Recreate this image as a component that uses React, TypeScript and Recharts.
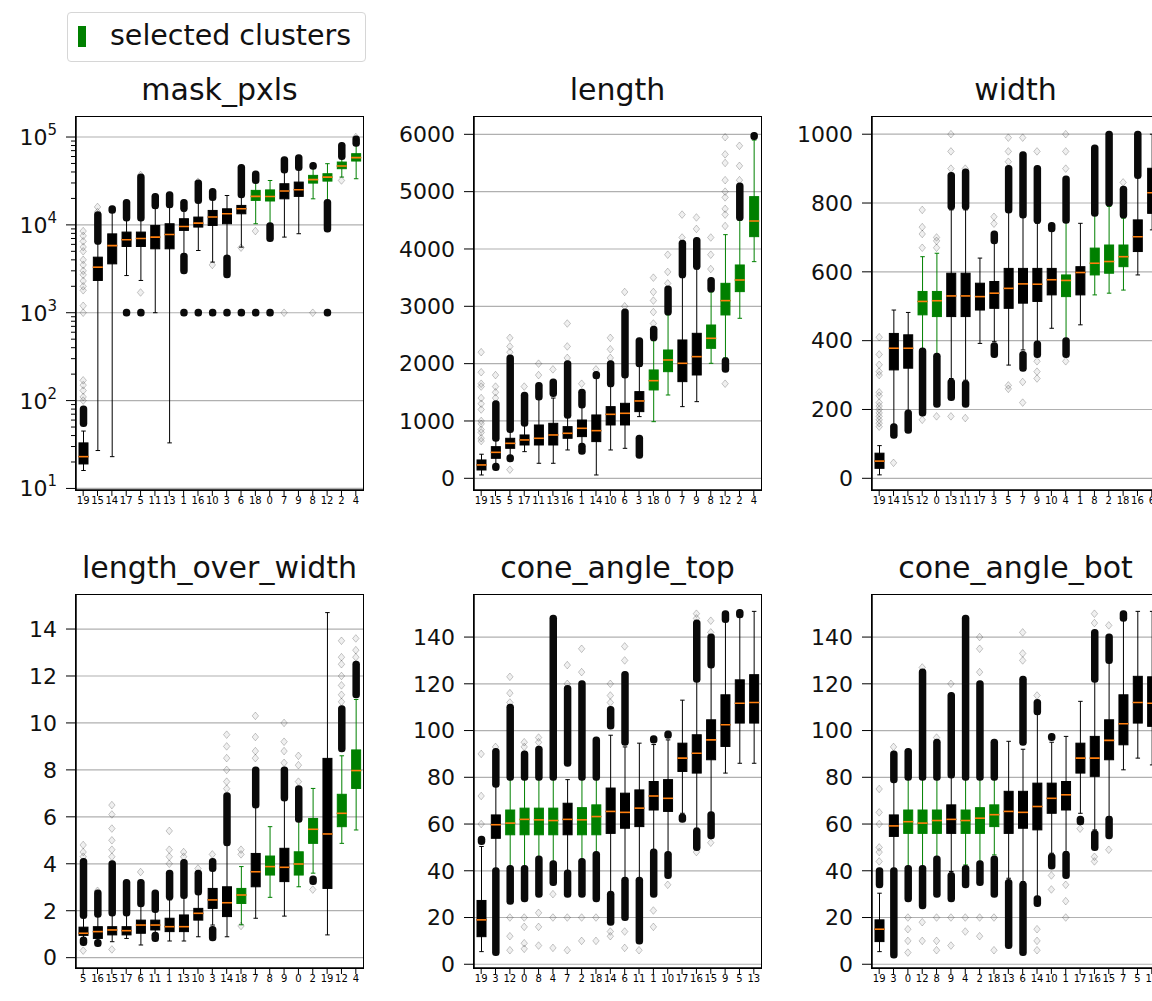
import React from "react";
import { ComposedChart, Bar, Scatter, XAxis, YAxis, CartesianGrid } from "recharts";

type Stat = [number, number, number, number, number]; // lo whisker, q1, median, q3, hi whisker
type Band = [number, number, number]; // box index, from, to (packed outliers)
type Flier = [number, number]; // box index, value (single outlier)

const FONT = "DejaVu Sans, sans-serif";
const INK = "#000000";
const GREEN = "#008000";
const ORANGE = "#ff7f0e";
const GRID = "#b0b0b0";

// clusters drawn in green in every panel
const SELECTED = ["18", "0", "8", "12", "2", "4"];

// ---------------- mask_pxls ----------------
const maskLabels = ["19", "15", "14", "17", "5", "11", "13", "1", "16", "10", "3", "6", "18", "0", "7", "9", "8", "12", "2", "4"];
const maskStats: Stat[] = [
  [16, 19, 23, 33, 45], [27, 2330, 3300, 4290, 6100], [23, 3600, 5800, 7900, 14000], [2650, 5680, 6760, 8280, 11500],
  [2330, 5680, 7000, 8280, 11500], [1000, 5340, 7260, 9860, 15500], [33, 5340, 7780, 10300, 16000], [4400, 8650, 9600, 11750, 14300],
  [5110, 9440, 10470, 12270, 18000], [3770, 9860, 12270, 14600, 19500], [4300, 10300, 13370, 15240, 21600], [5580, 13370, 15240, 16650, 21500],
  [10300, 19000, 21100, 24700, 31500], [10100, 18700, 21000, 25000, 32000], [7260, 19800, 24300, 29400, 40000], [7930, 21100, 25100, 30700, 43000],
  [19800, 29900, 32700, 36600, 45500], [19000, 31500, 35000, 38200, 49700], [35000, 43600, 46700, 51900, 58000], [33500, 53300, 58200, 64600, 80000],
];
const maskBands: Band[] = [
  [0, 55, 80], [1, 6500, 13000], [2, 14700, 15300], [3, 12000, 18000], [3, 990, 1010],
  [4, 12000, 35000], [4, 990, 1010], [5, 16500, 21000], [6, 17000, 22000],
  [7, 15500, 18000], [7, 3000, 4400], [7, 990, 1010], [8, 19000, 30000], [8, 990, 1010],
  [9, 20500, 24000], [9, 990, 1010], [10, 2700, 4200], [10, 990, 1010], [11, 22000, 45000], [11, 990, 1010],
  [12, 32000, 38000], [12, 990, 1010], [13, 7000, 9800], [13, 990, 1010], [14, 42000, 55000], [15, 45000, 58000],
  [16, 46500, 47500], [17, 9000, 18000], [17, 990, 1010], [18, 60000, 80000], [19, 85000, 95000],
];
const maskFliers: Flier[] = [
  [0, 100], [0, 110], [0, 130], [0, 150], [0, 170], [0, 1000], [0, 1200], [0, 1800], [0, 2000], [0, 2300], [0, 2700],
  [0, 3000], [0, 3500], [0, 4000], [0, 5000], [0, 5600], [0, 6500], [0, 7500], [0, 8500],
  [1, 14000], [1, 16000], [4, 37000], [4, 1700], [8, 31000], [9, 3500], [11, 5500], [12, 8500],
  [14, 1000], [16, 1000], [18, 32000], [19, 100000],
];
const maskTicks = [10, 100, 1000, 10000, 100000];
const maskMinorTicks = [
  20, 30, 40, 50, 60, 70, 80, 90, 200, 300, 400, 500, 600, 700, 800, 900,
  2000, 3000, 4000, 5000, 6000, 7000, 8000, 9000, 20000, 30000, 40000, 50000, 60000, 70000, 80000, 90000,
];

// ---------------- length ----------------
const lengthLabels = ["19", "15", "5", "17", "11", "13", "16", "1", "14", "10", "6", "3", "18", "0", "7", "9", "8", "12", "2", "4"];
const lengthStats: Stat[] = [
  [58, 145, 233, 320, 420], [233, 349, 453, 552, 669], [378, 523, 610, 698, 843], [465, 581, 669, 756, 940],
  [262, 581, 698, 930, 1380], [262, 581, 756, 959, 1400], [494, 698, 785, 901, 1060], [581, 727, 872, 1017, 1250],
  [58, 640, 831, 1105, 1780], [494, 930, 1116, 1250, 1600], [523, 930, 1134, 1308, 1780], [1076, 1163, 1349, 1512, 1950],
  [988, 1541, 1703, 1890, 2400], [1453, 1860, 2064, 2238, 2850], [1250, 1686, 2006, 2413, 3500], [1337, 1802, 2122, 2529, 3650],
  [2006, 2267, 2442, 2674, 3250], [2100, 2849, 3099, 3401, 4250], [2791, 3256, 3459, 3721, 4500], [3779, 4215, 4488, 4913, 5900],
];
const lengthBands: Band[] = [
  [1, 700, 1300], [1, 190, 210], [2, 850, 2100], [2, 340, 360], [3, 960, 1450], [4, 1420, 1620], [5, 1480, 1680],
  [6, 1100, 2000], [7, 1280, 1500], [7, 470, 560], [8, 1790, 1810], [9, 1650, 2000], [10, 1800, 2900],
  [11, 2000, 2400], [11, 400, 700], [12, 2450, 2600], [13, 2900, 3300], [14, 3550, 4100], [15, 3700, 4150],
  [16, 3300, 3450], [17, 1900, 2050], [18, 4550, 5100], [19, 5960, 5980],
];
const lengthFliers: Flier[] = [
  [0, 650], [0, 700], [0, 800], [0, 850], [0, 950], [0, 1000], [0, 1200], [0, 1300], [0, 1400], [0, 1600], [0, 1650], [0, 1850], [0, 2200],
  [1, 1400], [1, 1500], [1, 1600], [1, 1800], [2, 2200], [2, 2300], [2, 2450], [2, 150], [3, 1600], [4, 1800], [4, 2000],
  [5, 1900], [6, 2100], [6, 2300], [6, 2700], [7, 1650], [8, 1900], [9, 2100], [9, 2250], [9, 2450], [10, 3000], [10, 3250],
  [12, 2700], [12, 2900], [12, 3100], [12, 3250], [12, 3500], [13, 3400], [13, 3600], [13, 3900], [14, 4200], [14, 4600],
  [15, 4350], [15, 4550], [16, 3650], [16, 3900], [16, 4200],
  [17, 4400], [17, 4600], [17, 4700], [17, 4900], [17, 5000], [17, 5200], [17, 5500], [17, 5650], [17, 5950], [17, 1650],
  [18, 5200], [18, 5450], [18, 5800],
];
const lengthTicks = [0, 1000, 2000, 3000, 4000, 5000, 6000];

// ---------------- width ----------------
const widthLabels = ["19", "14", "15", "12", "0", "13", "11", "17", "3", "5", "7", "9", "10", "4", "1", "8", "2", "18", "16", "6"];
const widthStats: Stat[] = [
  [10, 29, 50, 73, 95], [150, 315, 378, 421, 489], [194, 320, 378, 417, 482], [373, 475, 514, 543, 644],
  [358, 470, 516, 543, 654], [290, 470, 530, 596, 780], [285, 470, 530, 596, 780], [392, 489, 528, 567, 640],
  [397, 494, 538, 572, 690], [329, 494, 552, 610, 780], [373, 509, 565, 610, 761], [388, 514, 564, 610, 741],
  [436, 533, 577, 610, 722], [402, 528, 575, 591, 746], [446, 533, 598, 615, 741], [533, 591, 625, 669, 766],
  [538, 596, 630, 678, 790], [547, 615, 644, 678, 756], [591, 659, 702, 751, 877], [722, 770, 830, 901, 1000],
];
const widthBands: Band[] = [
  [1, 125, 150], [2, 140, 190], [3, 190, 370], [4, 215, 355], [5, 790, 880], [5, 235, 280], [6, 790, 890], [6, 215, 275],
  [8, 360, 385], [8, 690, 710], [9, 780, 900], [10, 765, 940], [10, 320, 360], [11, 750, 900], [11, 360, 390],
  [12, 725, 735], [13, 750, 870], [13, 360, 400], [15, 770, 960], [16, 800, 1000], [17, 765, 840], [18, 880, 1000],
];
const widthFliers: Flier[] = [
  [0, 150], [0, 160], [0, 170], [0, 180], [0, 190], [0, 200], [0, 210], [0, 220], [0, 240], [0, 250], [0, 300], [0, 310],
  [0, 330], [0, 360], [0, 410], [1, 45], [3, 170], [3, 670], [3, 710], [3, 730], [3, 780], [4, 180], [4, 670], [4, 690], [4, 700],
  [5, 180], [5, 900], [5, 950], [5, 1000], [6, 175], [6, 900], [8, 740], [8, 760], [9, 260], [9, 270], [9, 920], [9, 950], [9, 990],
  [10, 280], [10, 220], [10, 990], [11, 290], [11, 310], [11, 340], [11, 950], [13, 340], [13, 900], [13, 950], [13, 1000], [17, 860],
];
const widthTicks = [0, 200, 400, 600, 800, 1000];

// ---------------- length_over_width ----------------
const ratioLabels = ["5", "16", "15", "17", "6", "11", "1", "13", "10", "3", "14", "18", "7", "8", "9", "0", "2", "19", "12", "4"];
const ratioStats: Stat[] = [
  [0.78, 0.95, 1.04, 1.3, 1.8], [0.7, 0.82, 1.11, 1.32, 1.82], [0.68, 0.97, 1.18, 1.32, 1.89], [0.82, 0.97, 1.15, 1.32, 1.89],
  [0.54, 1.04, 1.39, 1.6, 2.31], [0.97, 1.18, 1.39, 1.6, 2.03], [0.71, 1.11, 1.32, 1.68, 2.46], [0.71, 1.11, 1.32, 1.82, 2.6],
  [0.89, 1.6, 1.89, 2.1, 2.74], [1.39, 2.1, 2.46, 2.95, 3.73], [0.89, 1.75, 2.34, 3.02, 4.8], [1.4, 2.31, 2.67, 2.95, 3.88],
  [1.68, 3.02, 3.66, 4.44, 6.43], [2.57, 3.52, 3.88, 4.33, 5.58], [1.77, 3.24, 3.85, 4.66, 6.72], [3.02, 3.52, 3.99, 4.51, 5.86],
  [3.6, 4.87, 5.47, 5.93, 7.21], [0.97, 2.95, 5.27, 8.49, 14.7], [4.87, 5.58, 6.15, 6.96, 8.6], [5.44, 7.21, 7.97, 8.85, 11.0],
];
const ratioBands: Band[] = [
  [0, 1.8, 4.1], [0, 0.65, 0.75], [1, 1.85, 2.75], [1, 0.6, 0.65], [2, 1.9, 4.0], [3, 1.9, 3.2], [4, 2.3, 3.2],
  [5, 2.05, 2.75], [5, 0.82, 0.95], [6, 2.6, 3.6], [7, 2.65, 4.05], [8, 2.8, 3.6], [9, 3.8, 4.1], [9, 0.85, 1.2],
  [10, 4.9, 6.9], [12, 6.5, 8.0], [14, 6.8, 8.0], [15, 5.9, 7.2], [16, 3.25, 3.35], [18, 8.9, 10.6], [19, 11.2, 12.5],
];
const ratioFliers: Flier[] = [
  [0, 4.3], [0, 4.5], [0, 4.8], [0, 0.3], [1, 2.85], [2, 4.3], [2, 4.6], [2, 5.0], [2, 5.5], [2, 6.1], [2, 6.5], [2, 0.35],
  [4, 3.65], [6, 4.0], [6, 4.3], [6, 4.6], [6, 5.4], [7, 4.3], [7, 4.5], [8, 3.8], [9, 4.4],
  [10, 7.2], [10, 7.5], [10, 8.0], [10, 8.5], [10, 9.0], [10, 9.5], [11, 1.35], [11, 4.4], [11, 4.6],
  [12, 8.5], [12, 8.8], [12, 9.4], [12, 10.3], [14, 8.3], [14, 8.8], [14, 9.2], [14, 10.0], [15, 7.5], [15, 8.2], [15, 8.6],
  [16, 2.9], [18, 10.9], [18, 11.2], [18, 11.6], [18, 12.0], [18, 12.5], [18, 12.8], [18, 13.5], [19, 12.8], [19, 13.1], [19, 13.6],
];
const ratioTicks = [0, 2, 4, 6, 8, 10, 12, 14];

// ---------------- cone_angle_top ----------------
const topLabels = ["19", "3", "12", "0", "8", "4", "7", "2", "18", "14", "6", "11", "1", "10", "17", "16", "15", "9", "5", "13"];
const topStats: Stat[] = [
  [5.4, 11.8, 19, 27.3, 50.4], [40.4, 53.9, 59.7, 63.9, 76.8], [41.8, 55.4, 60.4, 66, 79], [41.8, 55.4, 62, 66.8, 79],
  [45.4, 55.4, 61.8, 66.8, 79], [43, 55.4, 61.5, 66.8, 79], [39.7, 55.4, 62, 68.9, 79], [44.7, 55.4, 61.8, 67, 79.6],
  [47.5, 55.4, 63.2, 68.2, 79], [30.4, 56, 65.4, 75.4, 98], [36.8, 58.2, 65, 73.2, 93], [36.1, 58.9, 66.8, 74.6, 94.6],
  [49, 66, 72, 78.2, 94], [47.5, 65.4, 71, 79, 96], [64.6, 82.5, 88.2, 94.6, 113], [58.2, 81.8, 90.3, 98.2, 121.7],
  [64.6, 87.5, 96, 104.6, 128], [81.8, 93.2, 102.5, 115.3, 147.4], [86, 103.2, 111.7, 121.7, 148.8], [86, 103.2, 112, 123.9, 151],
];
const topBands: Band[] = [
  [0, 52.5, 53.5], [1, 5, 40], [1, 77, 91], [2, 27, 41], [2, 80, 110], [3, 28, 41], [3, 80, 90], [4, 30, 45], [4, 80, 92],
  [5, 35, 43], [5, 80, 148], [6, 30, 39], [6, 86, 118], [7, 30, 44], [7, 80, 120], [8, 28, 47], [8, 80, 96],
  [9, 18, 30], [9, 102, 109], [10, 20, 36], [10, 95, 124], [11, 10, 36], [12, 30, 48], [12, 96, 96.5],
  [13, 38, 47], [13, 98, 98.5], [14, 62, 63], [15, 50, 57], [15, 122, 146], [16, 55, 64], [16, 128, 140],
  [17, 147.5, 150], [18, 149.5, 150.5],
];
const topFliers: Flier[] = [
  [0, 60], [0, 72], [0, 90], [1, 93], [2, 20], [2, 12], [2, 6], [2, 112], [2, 116], [2, 123],
  [3, 20], [3, 16], [3, 9], [3, 6.6], [3, 93], [3, 95], [4, 22], [4, 16], [4, 8], [4, 95], [4, 97], [5, 30], [5, 20], [5, 7],
  [6, 20], [6, 6], [6, 120], [6, 128], [7, 20], [7, 10], [7, 125], [7, 135], [8, 20], [8, 10],
  [9, 12], [9, 14], [9, 112], [9, 115], [9, 120], [10, 7], [10, 14], [10, 130], [10, 136], [11, 6], [12, 23], [12, 16],
  [13, 34], [15, 48], [15, 148], [15, 150], [16, 52], [16, 142], [16, 147],
];

// ---------------- cone_angle_bot ----------------
const botLabels = ["19", "3", "0", "12", "8", "9", "4", "2", "18", "13", "6", "14", "10", "1", "17", "16", "15", "7", "5", "11"];
const botStats: Stat[] = [
  [5.4, 9.7, 15, 19, 30.4], [40.4, 54.7, 59.2, 63.9, 78.2], [41.8, 56, 61, 66, 79.6], [41.8, 56, 60.4, 66, 79.6],
  [45, 56, 61.5, 66, 79.6], [39.7, 56, 62, 68.2, 80], [42.5, 56, 61.5, 66, 79.6], [44, 56, 62.5, 67, 79.6],
  [46.8, 58.9, 64, 68.2, 79], [36.8, 56, 65.4, 74, 95.4], [35.4, 58.2, 65, 74, 92], [29, 57.5, 67.5, 77.5, 107],
  [47.5, 64.6, 71, 77.5, 95], [48.2, 66, 72.5, 78.2, 97.5], [64.6, 81.8, 88.2, 94.6, 112.5], [57.5, 80.4, 88.2, 97.5, 121.7],
  [63.2, 87.5, 95.8, 104.6, 129.6], [83.2, 93.9, 102.9, 115.3, 147.4], [88.2, 103.2, 112, 123.2, 151], [85.3, 101.8, 111.7, 123, 151],
];
const botBands: Band[] = [
  [0, 34, 40], [1, 4, 40], [1, 79, 90], [2, 28, 41], [2, 80, 91], [3, 25, 41], [3, 80, 125], [4, 30, 45], [4, 80, 95],
  [5, 28, 38], [5, 81, 115], [6, 34, 41], [6, 80, 148], [7, 35, 43], [7, 80, 120], [8, 30, 45], [8, 80, 95],
  [9, 8, 35], [10, 5, 34], [10, 95, 122], [11, 26, 28], [11, 108, 112], [12, 42, 46], [12, 97, 97.5],
  [13, 38, 47], [14, 61, 62], [15, 50, 56], [15, 122, 142], [16, 55, 62], [16, 130, 140], [17, 148, 150],
];
const botFliers: Flier[] = [
  [0, 44], [0, 48], [0, 50], [0, 60], [0, 65], [0, 75], [1, 93], [2, 20], [2, 15], [2, 10], [2, 5],
  [3, 18], [3, 10], [3, 127], [4, 20], [4, 10], [4, 6], [4, 97], [5, 20], [5, 8], [5, 120], [6, 20], [6, 14],
  [7, 20], [7, 12], [7, 125], [7, 135], [7, 140], [8, 20], [8, 6], [10, 130], [10, 133], [10, 142],
  [11, 15], [11, 10], [11, 6], [11, 115], [12, 38], [12, 32], [13, 34], [13, 27], [13, 20], [14, 58],
  [15, 46], [15, 44], [15, 146], [15, 150], [16, 49], [16, 145],
];
const angleTicks = [0, 20, 40, 60, 80, 100, 120, 140];

// ---------------- layout ----------------
const PLOT_W = 287;
const PLOT_H = 373;
const AXIS_W = 86;
const PAD_T = 6;
const PAD_R = 6;
const X_AXIS_H = 30;
const BOX_W = 9;
const Y_TICK = 10;
const Y_PAD = 9;

type Row = {
  label: string;
  sel: boolean;
  whisker: [number, number];
  lower: [number, number];
  upper: [number, number];
  band0: [number, number] | null;
  band1: [number, number] | null;
  band2: [number, number] | null;
};

function buildRows(labels: string[], stats: Stat[], bands: Band[]): Row[] {
  return labels.map((label, i) => {
    const [lo, q1, med, q3, hi] = stats[i];
    const own = bands.filter((b) => b[0] === i).map((b) => [b[1], b[2]] as [number, number]);
    return {
      label,
      sel: SELECTED.includes(label),
      whisker: [lo, hi],
      lower: [q1, med],
      upper: [med, q3],
      band0: own[0] ?? null,
      band1: own[1] ?? null,
      band2: own[2] ?? null,
    };
  });
}

const span = (y: number, h: number) => ({ top: Math.min(y, y + h), h: Math.abs(h) });

const WhiskerShape = (props: any) => {
  const { x, y, width, height, payload } = props;
  if (!Number.isFinite(y) || !Number.isFinite(height)) return <g />;
  const { top, h } = span(y, height);
  const cx = x + width / 2;
  const cap = width / 4;
  return (
    <g stroke={payload.sel ? GREEN : INK} strokeWidth={1}>
      <line x1={cx} x2={cx} y1={top} y2={top + h} />
      <line x1={cx - cap} x2={cx + cap} y1={top} y2={top} />
      <line x1={cx - cap} x2={cx + cap} y1={top + h} y2={top + h} />
    </g>
  );
};

// upper half of the box (median -> q3)
const UpperBoxShape = (props: any) => {
  const { x, y, width, height, payload } = props;
  if (!Number.isFinite(y) || !Number.isFinite(height)) return <g />;
  const { top, h } = span(y, height);
  const col = payload.sel ? GREEN : INK;
  return <rect x={x} y={top} width={width} height={h} fill={col} stroke={col} strokeWidth={1} />;
};

// lower half of the box (q1 -> median) plus the median line on its top edge
const LowerBoxShape = (props: any) => {
  const { x, y, width, height, payload } = props;
  if (!Number.isFinite(y) || !Number.isFinite(height)) return <g />;
  const { top, h } = span(y, height);
  const col = payload.sel ? GREEN : INK;
  return (
    <g>
      <rect x={x} y={top} width={width} height={h} fill={col} stroke={col} strokeWidth={1} />
      <line x1={x - 0.5} x2={x + width + 0.5} y1={top} y2={top} stroke={ORANGE} strokeWidth={1.6} />
    </g>
  );
};

// many overlapping outlier markers, drawn as one solid column
const makeBandShape = (key: "band0" | "band1" | "band2") => (props: any) => {
  const { x, y, width, height, payload } = props;
  if (!payload[key] || !Number.isFinite(y) || !Number.isFinite(height)) return <g />;
  const { top, h } = span(y, height);
  const w = 7.5;
  return (
    <rect x={x + width / 2 - w / 2} y={top - 3.5} width={w} height={h + 7} rx={3.5} fill="#0a0a0a" />
  );
};
const bandShapes = [makeBandShape("band0"), makeBandShape("band1"), makeBandShape("band2")];

const Diamond = (props: any) => {
  const { cx, cy } = props;
  if (!Number.isFinite(cx) || !Number.isFinite(cy)) return <g />;
  return (
    <path
      d={`M${cx},${cy - 3.8}L${cx + 3.2},${cy}L${cx},${cy + 3.8}L${cx - 3.2},${cy}Z`}
      fill="#000"
      fillOpacity={0.06}
      stroke="#000"
      strokeOpacity={0.28}
      strokeWidth={0.8}
    />
  );
};

const LogTick = (props: any) => {
  const { x, y, payload } = props;
  const v = payload.value as number;
  const exp = Math.round(Math.log10(v));
  const major = maskTicks.includes(v);
  const axisX = x + Y_TICK + Y_PAD;
  return (
    <g>
      <line x1={axisX - (major ? Y_TICK : 5)} x2={axisX} y1={y} y2={y} stroke={INK} strokeWidth={1} />
      {major && (
        <text x={x} y={y} dy="0.36em" textAnchor="end" fontSize={22} fontFamily={FONT} fill="#111">
          10<tspan dy={-10} fontSize={15}>{exp}</tspan>
        </text>
      )}
    </g>
  );
};

type PanelProps = {
  title: string;
  labels: string[];
  stats: Stat[];
  bands: Band[];
  fliers: Flier[];
  ticks: number[];
  domain: [number, number];
  log?: boolean;
  left: number;
  top: number;
};

const hiddenAxes = ["w", "u", "l", "b0", "b1", "b2"];
const axisStroke = { stroke: INK, strokeWidth: 1.5 };

function BoxPanel(p: PanelProps) {
  const rows = buildRows(p.labels, p.stats, p.bands);
  const points = p.fliers.map(([i, v]) => ({ x: i + 0.5, y: v }));
  return (
    <>
      <div
        style={{
          position: "absolute",
          left: p.left - 20,
          top: p.top - 42,
          width: PLOT_W + 40,
          textAlign: "center",
          fontSize: 30,
          lineHeight: "30px",
          color: "#111",
          whiteSpace: "nowrap",
        }}
      >
        {p.title}
      </div>
      <div style={{ position: "absolute", left: p.left - AXIS_W, top: p.top - PAD_T }}>
        <ComposedChart
          width={AXIS_W + PLOT_W + PAD_R}
          height={PAD_T + PLOT_H + X_AXIS_H}
          data={rows}
          margin={{ top: PAD_T, right: PAD_R, bottom: 0, left: 0 }}
        >
          <CartesianGrid vertical={false} horizontalValues={p.ticks} stroke={GRID} strokeWidth={1.2} />
          <XAxis
            dataKey="label"
            interval={0}
            tickSize={6}
            tickMargin={1}
            tick={{ fontSize: 10, fill: INK, fontFamily: FONT }}
            tickLine={{ stroke: INK }}
            axisLine={axisStroke}
            height={X_AXIS_H}
          />
          {hiddenAxes.map((id) => (
            <XAxis key={id} xAxisId={id} dataKey="label" hide />
          ))}
          <XAxis xAxisId="n" type="number" dataKey="x" domain={[0, 20]} allowDataOverflow hide />
          {p.log ? (
            <YAxis
              type="number"
              scale="log"
              domain={p.domain}
              allowDataOverflow
              ticks={[...maskTicks, ...maskMinorTicks]}
              interval={0}
              width={AXIS_W}
              tickSize={Y_TICK}
              tickMargin={Y_PAD}
              tickLine={false}
              tick={LogTick}
              axisLine={axisStroke}
            />
          ) : (
            <YAxis
              type="number"
              domain={p.domain}
              allowDataOverflow
              ticks={p.ticks}
              interval={0}
              width={AXIS_W}
              tickSize={Y_TICK}
              tickMargin={Y_PAD}
              tickLine={{ stroke: INK }}
              tick={{ fontSize: 22, fill: "#111", fontFamily: FONT }}
              axisLine={axisStroke}
            />
          )}
          <Bar xAxisId="w" dataKey="whisker" barSize={BOX_W} shape={WhiskerShape} isAnimationActive={false} />
          <Bar xAxisId="u" dataKey="upper" barSize={BOX_W} shape={UpperBoxShape} isAnimationActive={false} />
          <Bar xAxisId="l" dataKey="lower" barSize={BOX_W} shape={LowerBoxShape} isAnimationActive={false} />
          <Bar xAxisId="b0" dataKey="band0" barSize={BOX_W} shape={bandShapes[0]} isAnimationActive={false} />
          <Bar xAxisId="b1" dataKey="band1" barSize={BOX_W} shape={bandShapes[1]} isAnimationActive={false} />
          <Bar xAxisId="b2" dataKey="band2" barSize={BOX_W} shape={bandShapes[2]} isAnimationActive={false} />
          <Scatter xAxisId="n" data={points} dataKey="y" shape={Diamond} isAnimationActive={false} />
        </ComposedChart>
      </div>
      {/* axes frame */}
      <div
        style={{
          position: "absolute",
          left: p.left - 0.75,
          top: p.top - 0.75,
          width: PLOT_W + 1.5,
          height: PLOT_H + 1.5,
          border: "1.5px solid #000",
          boxSizing: "border-box",
          pointerEvents: "none",
        }}
      />
    </>
  );
}

export default function App() {
  return (
    <div
      style={{
        position: "absolute",
        left: 0,
        top: 0,
        width: 1152,
        height: 1001,
        overflow: "hidden",
        background: "#fff",
        fontFamily: FONT,
      }}
    >
      {/* legend */}
      <div
        style={{
          position: "absolute",
          left: 67,
          top: 12,
          width: 299,
          height: 50,
          border: "1px solid #d6d6d6",
          borderRadius: 4,
          boxSizing: "border-box",
        }}
      >
        <div style={{ position: "absolute", left: 10, top: 13, width: 8, height: 21, background: GREEN }} />
        <div style={{ position: "absolute", left: 42, top: 6, fontSize: 28.5, lineHeight: "33px", color: "#111", whiteSpace: "nowrap" }}>
          selected clusters
        </div>
      </div>

      <BoxPanel title="mask_pxls" labels={maskLabels} stats={maskStats} bands={maskBands} fliers={maskFliers}
        ticks={maskTicks} domain={[9.6, 169000]} log left={76} top={117} />
      <BoxPanel title="length" labels={lengthLabels} stats={lengthStats} bands={lengthBands} fliers={lengthFliers}
        ticks={lengthTicks} domain={[-204, 6302]} left={474} top={117} />
      <BoxPanel title="width" labels={widthLabels} stats={widthStats} bands={widthBands} fliers={widthFliers}
        ticks={widthTicks} domain={[-34, 1050]} left={872} top={117} />
      <BoxPanel title="length_over_width" labels={ratioLabels} stats={ratioStats} bands={ratioBands} fliers={ratioFliers}
        ticks={ratioTicks} domain={[-0.44, 15.45]} left={76} top={595} />
      <BoxPanel title="cone_angle_top" labels={topLabels} stats={topStats} bands={topBands} fliers={topFliers}
        ticks={angleTicks} domain={[-1.6, 158]} left={474} top={595} />
      <BoxPanel title="cone_angle_bot" labels={botLabels} stats={botStats} bands={botBands} fliers={botFliers}
        ticks={angleTicks} domain={[-1.6, 158]} left={872} top={595} />
    </div>
  );
}
